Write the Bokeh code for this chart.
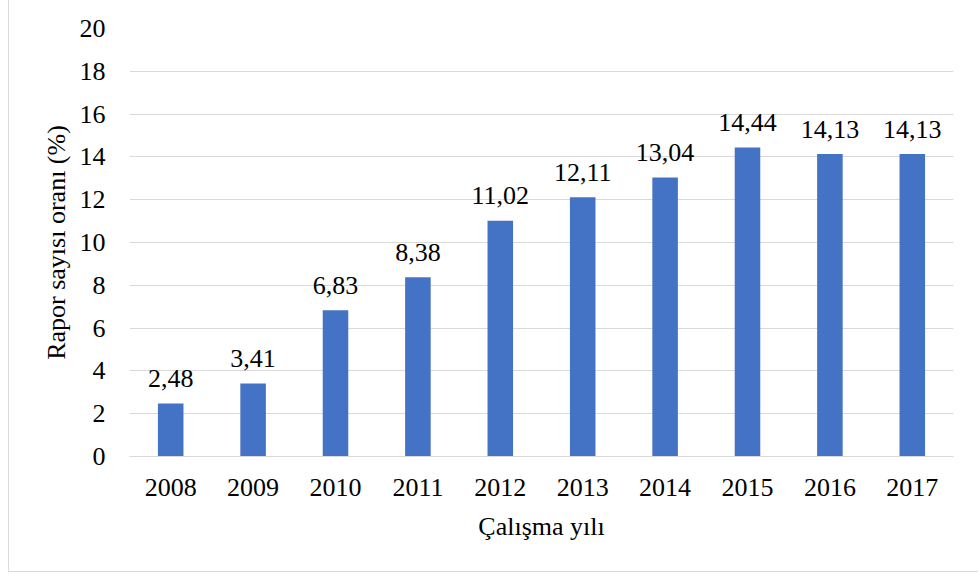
from bokeh.plotting import figure
from bokeh.models import FactorRange, Range1d, FixedTicker, ColumnDataSource
from bokeh.core.properties import value
from bokeh.embed import file_html
from bokeh.resources import INLINE

years = ["2008", "2009", "2010", "2011", "2012", "2013", "2014", "2015", "2016", "2017"]
rates = [2.48, 3.41, 6.83, 8.38, 11.02, 12.11, 13.04, 14.44, 14.13, 14.13]
rate_labels = ["2,48", "3,41", "6,83", "8,38", "11,02", "12,11", "13,04", "14,44", "14,13", "14,13"]
y_ticks = [0, 2, 4, 6, 8, 10, 12, 14, 16, 18, 20]

FONT = "'Liberation Serif', 'Times New Roman', serif"
FS = "26px"

src = ColumnDataSource(dict(x=years, y=rates, lab=rate_labels))

p = figure(
    x_range=FactorRange(*years, range_padding=0),
    y_range=Range1d(0, 20),
    width=970, height=572,
    output_backend="svg", toolbar_location=None,
    min_border_left=120, min_border_right=26,
    min_border_top=28, min_border_bottom=116,
)
p.outline_line_color = None
p.styles = {"border-left": "1px solid #d9d9d9", "border-bottom": "1px solid #d9d9d9",
            "margin-left": "8px"}

p.vbar(x="x", top="y", width=0.31, source=src, fill_color="#4472C4", line_color=None)
p.text(x="x", y="y", text="lab", source=src, text_align="center", text_baseline="alphabetic",
       y_offset=-25, text_font=value(FONT), text_font_size=FS, text_color="black")

p.xgrid.grid_line_color = None
p.ygrid.grid_line_color = "#d9d9d9"
p.ygrid.grid_line_width = 1
p.yaxis.ticker = FixedTicker(ticks=y_ticks)

p.yaxis.axis_line_color = None
p.yaxis.major_tick_line_color = None
p.yaxis.minor_tick_line_color = None
p.yaxis.major_label_standoff = 18
p.yaxis.axis_label = "Rapor sayısı oranı (%)"
p.yaxis.axis_label_standoff = 6

p.xaxis.axis_line_color = "#d9d9d9"
p.xaxis.major_tick_line_color = None
p.xaxis.minor_tick_line_color = None
p.xaxis.major_label_standoff = 16
p.xaxis.axis_label = "Çalışma yılı"
p.xaxis.axis_label_standoff = 13

for ax in (p.xaxis, p.yaxis):
    ax.major_label_text_font = FONT
    ax.major_label_text_font_size = FS
    ax.major_label_text_color = "black"
    ax.axis_label_text_font = FONT
    ax.axis_label_text_font_size = FS
    ax.axis_label_text_font_style = "normal"
    ax.axis_label_text_color = "black"

open("out.html", "w").write(file_html(p, INLINE))
